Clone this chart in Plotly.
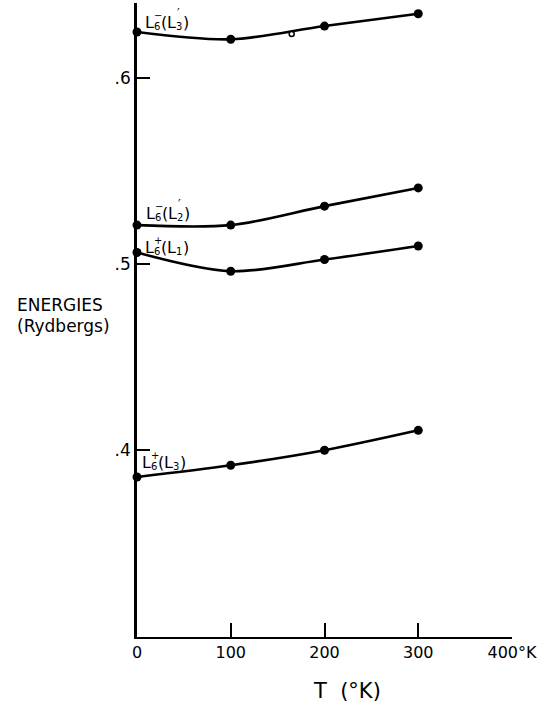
import plotly.graph_objects as go

# ---- data ----
T = [0, 100, 200, 300]
E_L6m_L3p = [0.6247, 0.6208, 0.6279, 0.6345]
E_L6m_L2p = [0.5209, 0.5209, 0.5311, 0.5409]
E_L6p_L1 = [0.5062, 0.4961, 0.5024, 0.5097]
E_L6p_L3 = [0.3855, 0.3918, 0.3999, 0.4106]
open_T = [165]
open_E = [0.6236]

x_tickvals = [0, 100, 200, 300, 400]
x_ticktext = ["0", "100", "200", "300", "400°K"]
y_tickvals = [0.4, 0.5, 0.6]
y_ticktext = [".4", ".5", ".6"]

FONT = "DejaVu Sans"
BLACK = "black"

fig = go.Figure()
for ys in [E_L6m_L3p, E_L6m_L2p, E_L6p_L1, E_L6p_L3]:
    fig.add_trace(go.Scatter(
        x=T, y=ys, mode="lines+markers",
        line=dict(color=BLACK, width=2.6, shape="spline", smoothing=0.9),
        marker=dict(color=BLACK, size=9),
        cliponaxis=False, showlegend=False, hoverinfo="x+y"))
fig.add_trace(go.Scatter(
    x=open_T, y=open_E, mode="markers",
    marker=dict(color="white", size=5, line=dict(color=BLACK, width=1.5)),
    cliponaxis=False, showlegend=False))

# curve labels: (x, y, sign, sub1, prime, sub2)
labels = [
    (7.5, 0.6297, "−", "6", "′", "3"),
    (8.5, 0.5271, "−", "6", "′", "2"),
    (7.5, 0.5088, "+", "6", "", "1"),
    (4.3, 0.3932, "+", "6", "", "3"),
]
for (lx, ly, sgn, s1, pr, s2) in labels:
    parts = [
        ("L", 16, 0, 0),
        (sgn, 10, 9, 7),
        (s1, 10, 9, -4),
        ("(", 16, 16, 0),
        ("L", 16, 22, 0),
        (pr, 12, 32, 10),
        (s2, 10, 31, -4),
        (")", 16, 38, 0),
    ]
    for txt, size, dx, dy in parts:
        if not txt:
            continue
        fig.add_annotation(x=lx, y=ly, xref="x", yref="y", text=txt,
                           showarrow=False, xanchor="left", yanchor="middle",
                           xshift=dx, yshift=dy, borderpad=0,
                           font=dict(family=FONT, size=size, color=BLACK))

fig.add_annotation(x=-0.205, y=0.523, xref="paper", yref="paper", text="ENERGIES",
                   showarrow=False, xanchor="center", yanchor="middle",
                   font=dict(family=FONT, size=17, color=BLACK))
fig.add_annotation(x=-0.195, y=0.491, xref="paper", yref="paper", text="(Rydbergs)",
                   showarrow=False, xanchor="center", yanchor="middle",
                   font=dict(family=FONT, size=17, color=BLACK))
fig.add_annotation(x=224, y=-0.085, xref="x", yref="paper", text="T\u00a0\u00a0(°K)",
                   showarrow=False, xanchor="center", yanchor="middle",
                   font=dict(family=FONT, size=21, color=BLACK))

fig.update_xaxes(range=[0, 400], tickvals=x_tickvals, ticktext=x_ticktext,
                 ticks="inside", ticklen=14, tickwidth=1.5, tickcolor=BLACK,
                 showline=True, linecolor=BLACK, linewidth=2, showgrid=False,
                 zeroline=False, tickfont=dict(family=FONT, size=16, color=BLACK))
fig.update_yaxes(range=[0.2995, 0.6403], tickvals=y_tickvals, ticktext=y_ticktext,
                 ticks="inside", ticklen=13, tickwidth=1.5, tickcolor=BLACK,
                 showline=True, linecolor=BLACK, linewidth=2.5, showgrid=False,
                 zeroline=False, tickfont=dict(family=FONT, size=17, color=BLACK))

fig.update_layout(width=552, height=704,
                  margin=dict(l=137, r=40, t=3, b=67, pad=0),
                  paper_bgcolor="white", plot_bgcolor="white",
                  font=dict(family=FONT, color=BLACK))

fig.write_html("out.html", config={"displayModeBar": False},
               post_script="document.body.style.margin='0';document.body.style.overflow='hidden';")
